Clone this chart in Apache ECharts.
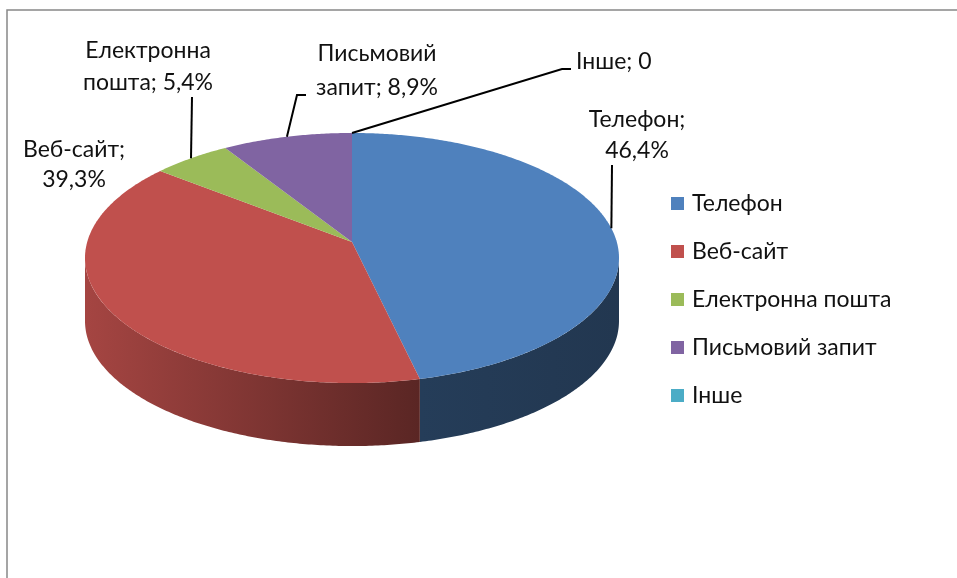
<!DOCTYPE html>
<html>
<head>
<meta charset="utf-8">
<script src="https://cdn.jsdelivr.net/npm/echarts@6/dist/echarts.min.js"></script>
<style>
html, body { margin: 0; padding: 0; background: #fff; }
#chart { width: 957px; height: 578px; }
</style>
</head>
<body>
<div id="chart"></div>
<script>
// дані діаграми
const categories = ['Телефон', 'Веб-сайт', 'Електронна пошта', 'Письмовий запит', 'Інше'];
const shares = [46.4, 39.3, 5.4, 8.9, 0];
const colors = ['#4F81BD', '#C0504D', '#9BBB59', '#8064A2', '#4BACC6'];

// геометрія 3D-кола (перспективна проекція)
const CX = 352, CY = 242, A = 264.8, B = 123, K = 0.128, H = 63;
const VIS0 = Math.acos(-K), VIS1 = 2 * Math.PI - Math.acos(-K); // видима бічна стінка
const XL = CX - A / Math.sqrt(1 - K * K), XR = CX + A / Math.sqrt(1 - K * K);
const FONT = 'Lato, "Open Sans", sans-serif';

// розміщення підписів (макет, не дані)
const labelLayout = [
    { x: 637, y: 135, align: 'center', lh: 31, leader: [[612, 165]] },
    { x: 74, y: 165, align: 'center', lh: 30, leader: null },
    { x: 148, y: 67, align: 'center', lh: 32, leader: [[192, 97]] },
    { x: 377, y: 71, align: 'center', lh: 34, leader: [[297, 95], [306, 95]] },
    { x: 576, y: 62, align: 'left', lh: 30, leader: [[562, 69], [571, 69]] }
];

function proj(th, dz) {
    const d = 1 + K * Math.cos(th);
    return [CX + A * Math.sin(th) / d, CY - B * Math.cos(th) / d + (dz || 0)];
}
function darken(hex, f) {
    const n = parseInt(hex.slice(1), 16);
    const r = Math.round(((n >> 16) & 255) * f), g = Math.round(((n >> 8) & 255) * f), b = Math.round((n & 255) * f);
    return 'rgb(' + r + ',' + g + ',' + b + ')';
}
function shadeAt(x) {
    const t = (x - XL) / (XR - XL);
    return t < 0.63 ? 0.86 - 0.62 * t : 0.47 - 0.12 * (t - 0.63);
}
function fmtLabel(i) {
    const v = shares[i];
    const txt = categories[i] + '; ' + (v === 0 ? '0' : v.toFixed(1).replace('.', ',') + '%');
    return labelLayout[i].align === 'center' ? txt.replace(' ', '\n') : txt;
}
function arc(t1, t2, dz) {
    const pts = [], n = Math.max(2, Math.ceil(Math.abs(t2 - t1) / 0.01));
    for (let j = 0; j <= n; j++) pts.push(proj(t1 + (t2 - t1) * j / n, dz));
    return pts;
}

const total = shares.reduce((s, v) => s + v, 0);
let acc = 0;
const ranges = shares.map(v => { const r = [acc / total, (acc + v) / total]; acc += v; return r; });

function makeRender(i) {
    return function (params, api) {
        const t1 = api.value(0) * 2 * Math.PI, t2 = api.value(1) * 2 * Math.PI;
        const children = [];
        if (t2 > t1) {
            const a = Math.max(t1, VIS0), b = Math.min(t2, VIS1);
            if (b > a) {
                const pts = arc(a, b, 0).concat(arc(b, a, H));
                const xa = proj(a)[0], xb = proj(b)[0];
                children.push({
                    type: 'polygon', z2: 1,
                    shape: { points: pts },
                    style: {
                        fill: new echarts.graphic.LinearGradient(xa, 0, xb, 0, [
                            { offset: 0, color: darken(colors[i], shadeAt(xa)) },
                            { offset: 1, color: darken(colors[i], shadeAt(xb)) }
                        ], true)
                    }
                });
            }
            children.push({
                type: 'polygon', z2: 10,
                shape: { points: [[CX, CY]].concat(arc(t1, t2, 0)) },
                style: { fill: colors[i] }
            });
        }
        const lay = labelLayout[i];
        if (lay.leader) {
            children.push({
                type: 'polyline', z2: 20,
                shape: { points: [proj((t1 + t2) / 2)].concat(lay.leader) },
                style: { stroke: '#000', lineWidth: 2, fill: null }
            });
        }
        children.push({
            type: 'text', z2: 20,
            style: {
                text: fmtLabel(i), x: lay.x, y: lay.y,
                align: lay.align, verticalAlign: 'middle',
                fontFamily: FONT, fontSize: 23, lineHeight: lay.lh, fill: '#111'
            }
        });
        return { type: 'group', children: children };
    };
}

const chart = echarts.init(document.getElementById('chart'));
chart.setOption({
    animation: false,
    graphic: [{
        type: 'rect', silent: true,
        shape: { x: 7, y: 10, width: 1200, height: 900 },
        style: { fill: null, stroke: '#888', lineWidth: 1.5 }
    }],
    legend: {
        orient: 'vertical', left: 666, top: 187,
        icon: 'rect', itemWidth: 13, itemHeight: 13, itemGap: 25,
        textStyle: { fontFamily: FONT, fontSize: 23, lineHeight: 23, color: '#111', padding: [0, 0, 0, 3] },
        data: categories
    },
    series: categories.map((name, i) => ({
        name: name,
        type: 'custom',
        coordinateSystem: 'none',
        itemStyle: { color: colors[i] },
        renderItem: makeRender(i),
        data: [[ranges[i][0], ranges[i][1]]]
    }))
});
</script>
</body>
</html>
